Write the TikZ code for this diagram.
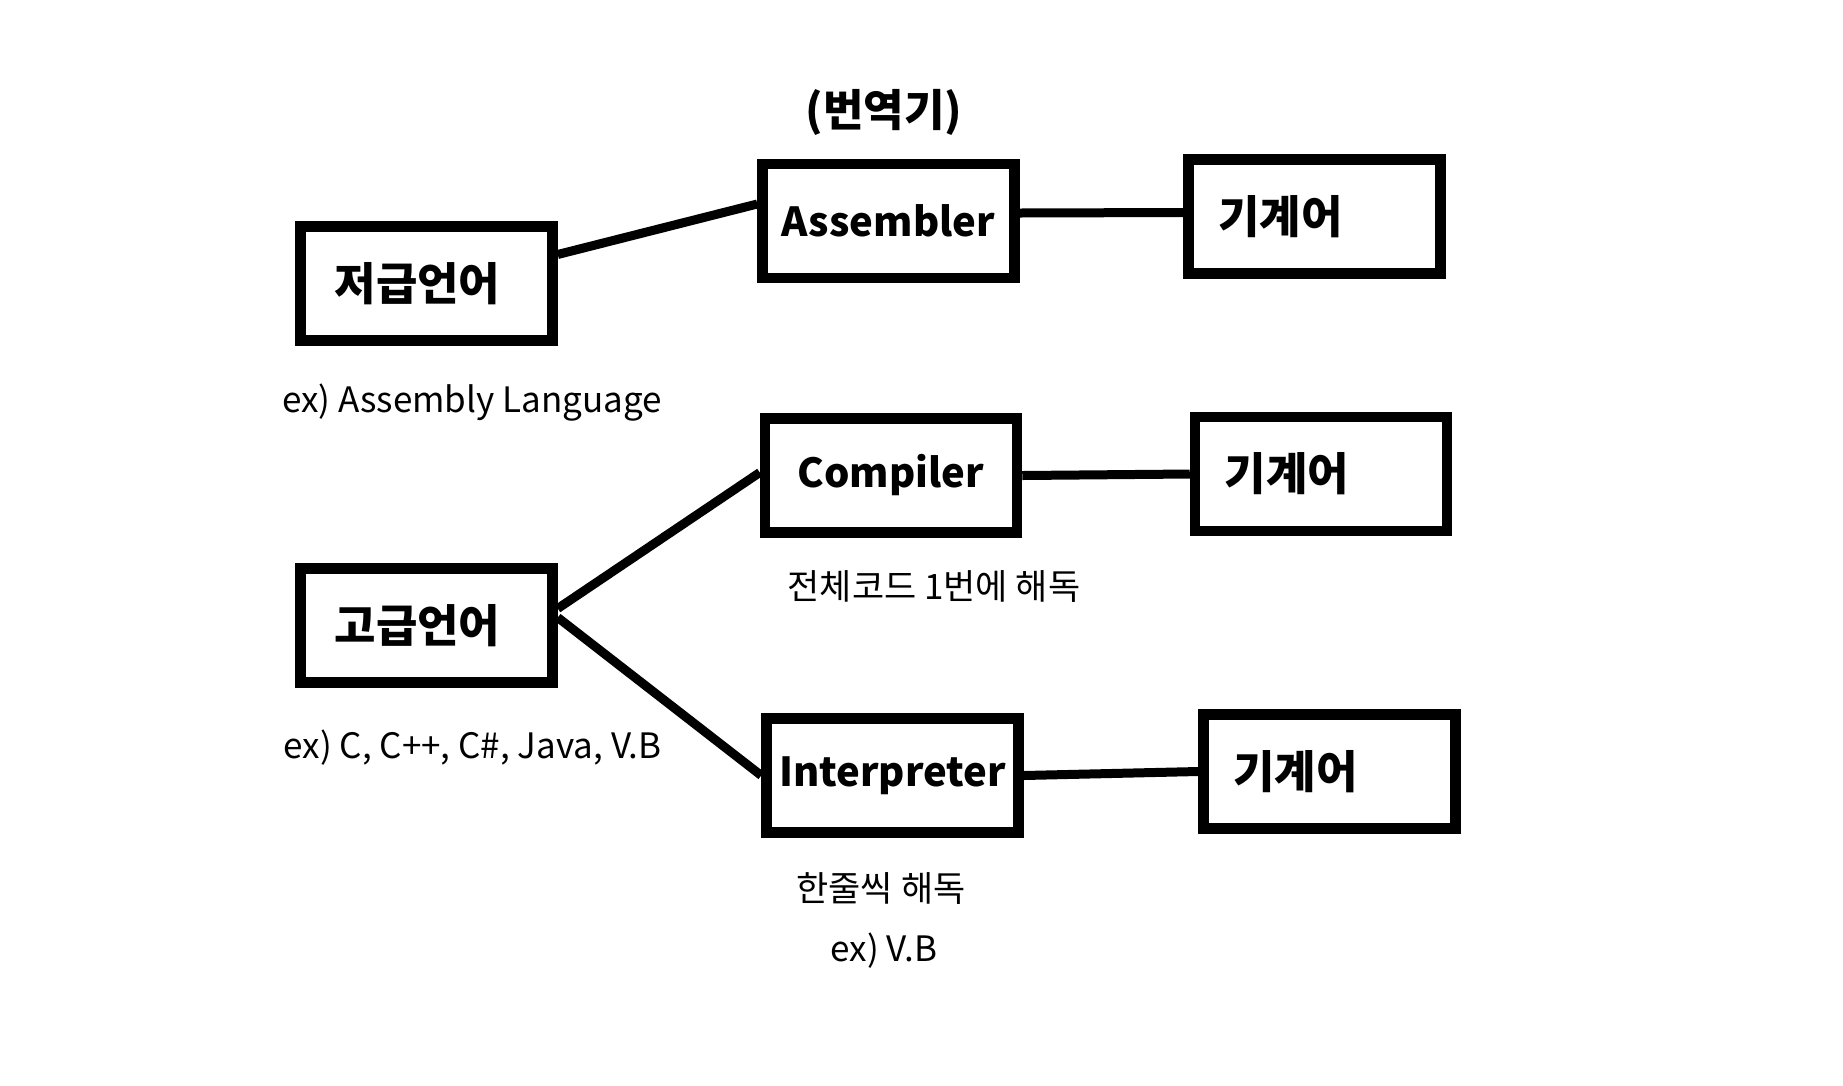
\documentclass[tikz,border=0pt]{standalone}
\usepackage{fontspec}
\setmainfont{Noto Sans CJK KR}
\usetikzlibrary{positioning}

\begin{document}
\begin{tikzpicture}[x=1pt, y=-1pt,
langbox/.style={rectangle, draw=black, fill=white, line width=10.5pt, minimum width=252pt, minimum height=114pt, font=\fontsize{40}{48}\selectfont\bfseries},
kobox/.style={langbox, font=\fontsize{45}{52}\selectfont\bfseries, execute at end node={\hspace*{18pt}}},
machbox/.style={kobox, execute at end node={\hspace*{50pt}}},
notetext/.style={inner sep=0pt, font=\fontsize{35}{42}\selectfont},
link/.style={line width=9pt},
]
\useasboundingbox (0,0) rectangle (1843,1085);
%Nodes
\node[kobox]    (low)    at (426.5,283.5) {저급언어};
\node[langbox]  (asm)    at (888.5,221)   {Assembler};
\node[machbox]  (mach1)  at (1314.5,216.5) {기계어};
\node[kobox]    (high)   at (426.5,625.5) {고급언어};
\node[langbox]  (comp)   at (891,475.5)   {Compiler};
\node[machbox]  (mach2)  at (1321,474)    {기계어};
\node[langbox]  (interp) at (892.5,775.5) {Interpreter};
\node[machbox]  (mach3)  at (1329.5,771.5) {기계어};

\node[notetext] (trans)   at (884,112)   {\fontsize{44}{50}\selectfont\bfseries(번역기)};
\node[notetext] (lowex)   at (472,403)   {ex) Assembly Language};
\node[notetext] (highex)  at (472.5,748)  {ex) C, C++, C\#, Java, V.B};
\node[notetext] (compnote) at (934,587)  {전체코드 1번에 해독};
\node[notetext] (internote) at (881,888) {한줄씩 해독};
\node[notetext] (interex) at (884,951)   {ex) V.B};

%Lines
\draw[link] ([yshift=29pt]low.east) -- ([yshift=17pt]asm.west);
\draw[link] ([yshift=8pt]asm.east) -- ([yshift=4pt]mach1.west);
\draw[link] ([yshift=17pt]high.east) -- ([yshift=3pt]comp.west);
\draw[link] ([yshift=8pt]high.east) -- (interp.west);
\draw[link] (comp.east) -- (mach2.west);
\draw[link] (interp.east) -- (mach3.west);

\end{tikzpicture}
\end{document}
